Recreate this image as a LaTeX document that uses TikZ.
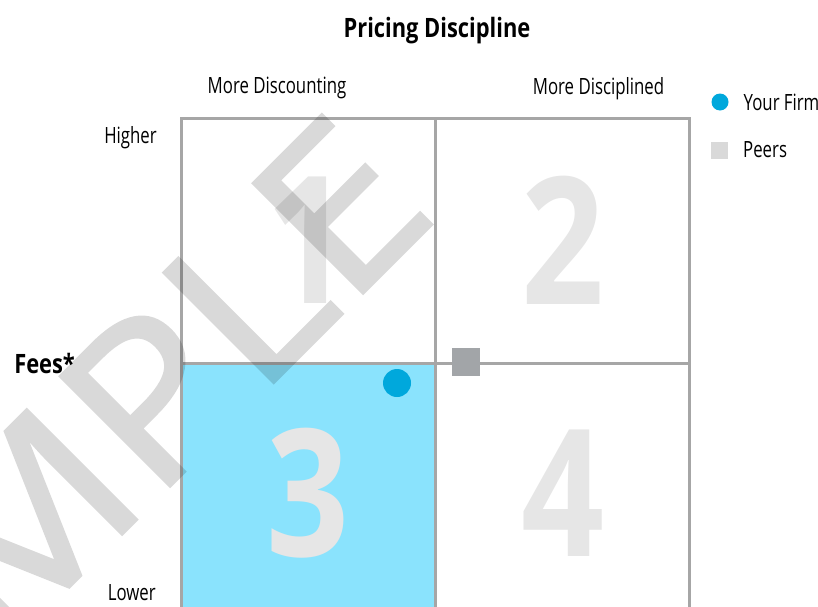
\documentclass[tikz,border=0pt]{standalone}
\usepackage{fontspec}
\setmainfont{Open Sans}[FakeStretch=0.75]
\newfontfamily\headfont{Open Sans}[FakeStretch=0.82]
\newfontfamily\markfont{Open Sans}[FakeStretch=1.12,FakeBold=1.5]
\usetikzlibrary{positioning}
\definecolor{gridgray}{HTML}{A6A6A6}
\definecolor{quadcyan}{HTML}{8AE3FD}
\definecolor{firmblue}{HTML}{00A8DC}
\definecolor{peergray}{HTML}{A2A5A8}
\definecolor{keygray}{HTML}{D9D9D9}
\definecolor{digitgray}{HTML}{E6E6E6}

\begin{document}
\begin{tikzpicture}[x=0.75pt,y=-0.75pt,
    quad/.style={draw=gridgray,line width=2.25pt,minimum width=190.5pt,inner sep=0pt,text=digitgray,font=\headfont\bfseries\fontsize{133}{133}\selectfont},
    axistext/.style={inner sep=0pt,font=\fontsize{16.8}{18}\selectfont},
    headtext/.style={inner sep=0pt,font=\headfont\bfseries\fontsize{20}{22}\selectfont},
    firm/.style={circle,fill=firmblue,inner sep=0pt},
    peer/.style={rectangle,inner sep=0pt}]
  \useasboundingbox (0,0) rectangle (818,607);
  \clip (0,0) rectangle (818,607);
  \node[quad,minimum height=183.75pt] (q1) at (308,240.5) {1};
  \node[quad,minimum height=183.75pt] (q2) at (562.5,240.5) {2};
  \node[quad,minimum height=195pt,fill=quadcyan] (q3) at (308,493) {3};
  \node[quad,minimum height=195pt] (q4) at (562.5,493) {4};
  \node[peer,fill=peergray,minimum size=21pt] (peer) at (466,362) {};
  \node[firm,minimum size=21pt] (firm) at (397,383) {};
  \node[headtext,anchor=base] (title) at (437,37) {Pricing Discipline};
  \node[headtext,anchor=base west] (fees) at (14,373) {Fees*};
  \node[axistext,anchor=base] (discounting) at (277,93) {More Discounting};
  \node[axistext,anchor=base] (disciplined) at (598.5,94) {More Disciplined};
  \node[axistext,anchor=base east] (higher) at (157,143) {Higher};
  \node[axistext,anchor=base east] (lower) at (156,600) {Lower};
  \node[firm,minimum size=12.75pt] (keyfirm) at (720,102) {};
  \node[peer,fill=keygray,minimum size=12.75pt] (keypeer) at (719.5,150) {};
  \node[axistext,right=11pt of keyfirm] (keyfirmtext) {Your Firm};
  \node[axistext,right=11pt of keypeer] (keypeertext) {Peers};
  \begin{scope}[transparency group,opacity=0.15]
    \node[rotate=45,anchor=base east,inner sep=0pt,font=\markfont\fontsize{163}{163}\selectfont] (stamp) at (442,214) {SAMPLE};
  \end{scope}
\end{tikzpicture}
\end{document}
